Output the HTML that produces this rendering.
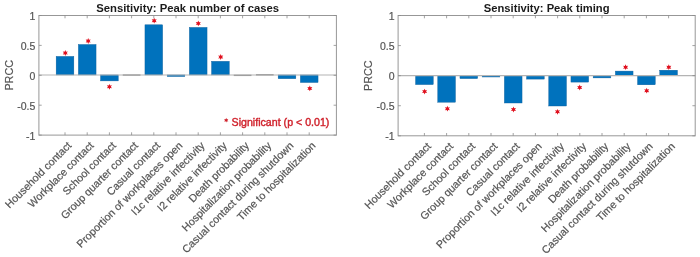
<!DOCTYPE html>
<html><head><meta charset="utf-8"><style>
html,body{margin:0;padding:0;background:#fff;}
svg{display:block;font-family:"Liberation Sans",sans-serif;filter:blur(0.5px);}
</style></head><body>
<svg width="700" height="257" viewBox="0 0 700 257">
<rect x="56.15" y="56.40" width="17.70" height="18.55" fill="#0072bd" stroke="#0a5d9a" stroke-width="0.4"/>
<rect x="78.35" y="44.50" width="17.70" height="30.45" fill="#0072bd" stroke="#0a5d9a" stroke-width="0.4"/>
<rect x="100.55" y="74.95" width="17.70" height="5.95" fill="#0072bd" stroke="#0a5d9a" stroke-width="0.4"/>
<rect x="122.75" y="74.35" width="17.70" height="1.4" fill="#8a8a8a"/>
<rect x="144.95" y="24.80" width="17.70" height="50.15" fill="#0072bd" stroke="#0a5d9a" stroke-width="0.4"/>
<rect x="167.15" y="74.95" width="17.70" height="1.55" fill="#0072bd" stroke="#0a5d9a" stroke-width="0.4"/>
<rect x="189.35" y="27.40" width="17.70" height="47.55" fill="#0072bd" stroke="#0a5d9a" stroke-width="0.4"/>
<rect x="211.55" y="61.30" width="17.70" height="13.65" fill="#0072bd" stroke="#0a5d9a" stroke-width="0.4"/>
<rect x="233.75" y="74.65" width="17.70" height="1.4" fill="#8a8a8a"/>
<rect x="255.95" y="74.10" width="17.70" height="1.4" fill="#8a8a8a"/>
<rect x="278.15" y="74.95" width="17.70" height="3.75" fill="#0072bd" stroke="#0a5d9a" stroke-width="0.4"/>
<rect x="300.35" y="74.95" width="17.70" height="7.55" fill="#0072bd" stroke="#0a5d9a" stroke-width="0.4"/>
<polygon points="65.30,50.10 66.02,51.74 67.81,51.55 66.75,53.00 67.81,54.45 66.02,54.26 65.30,55.90 64.58,54.26 62.79,54.45 63.85,53.00 62.79,51.55 64.58,51.74" fill="#e0101e"/>
<polygon points="88.20,38.10 88.92,39.74 90.71,39.55 89.65,41.00 90.71,42.45 88.92,42.26 88.20,43.90 87.48,42.26 85.69,42.45 86.75,41.00 85.69,39.55 87.48,39.74" fill="#e0101e"/>
<polygon points="109.40,83.90 110.12,85.54 111.91,85.35 110.85,86.80 111.91,88.25 110.12,88.06 109.40,89.70 108.68,88.06 106.89,88.25 107.95,86.80 106.89,85.35 108.68,85.54" fill="#e0101e"/>
<polygon points="154.20,17.80 154.92,19.44 156.71,19.25 155.65,20.70 156.71,22.15 154.92,21.96 154.20,23.60 153.47,21.96 151.69,22.15 152.75,20.70 151.69,19.25 153.47,19.44" fill="#e0101e"/>
<polygon points="198.30,20.50 199.03,22.14 200.81,21.95 199.75,23.40 200.81,24.85 199.03,24.66 198.30,26.30 197.58,24.66 195.79,24.85 196.85,23.40 195.79,21.95 197.58,22.14" fill="#e0101e"/>
<polygon points="220.70,54.10 221.42,55.74 223.21,55.55 222.15,57.00 223.21,58.45 221.42,58.26 220.70,59.90 219.97,58.26 218.19,58.45 219.25,57.00 218.19,55.55 219.97,55.74" fill="#e0101e"/>
<polygon points="309.80,85.50 310.53,87.14 312.31,86.95 311.25,88.40 312.31,89.85 310.53,89.66 309.80,91.30 309.07,89.66 307.29,89.85 308.35,88.40 307.29,86.95 309.07,87.14" fill="#e0101e"/>
<line x1="38.9" y1="74.95" x2="336.4" y2="74.95" stroke="#b4b4b4" stroke-width="1.1"/>
<rect x="38.9" y="15.5" width="297.50" height="119.60" fill="none" stroke="#979797" stroke-width="1"/>
<line x1="65.00" y1="135.1" x2="65.00" y2="132.29999999999998" stroke="#8c8c8c" stroke-width="0.8"/>
<line x1="65.00" y1="15.5" x2="65.00" y2="18.3" stroke="#8c8c8c" stroke-width="0.8"/>
<line x1="87.20" y1="135.1" x2="87.20" y2="132.29999999999998" stroke="#8c8c8c" stroke-width="0.8"/>
<line x1="87.20" y1="15.5" x2="87.20" y2="18.3" stroke="#8c8c8c" stroke-width="0.8"/>
<line x1="109.40" y1="135.1" x2="109.40" y2="132.29999999999998" stroke="#8c8c8c" stroke-width="0.8"/>
<line x1="109.40" y1="15.5" x2="109.40" y2="18.3" stroke="#8c8c8c" stroke-width="0.8"/>
<line x1="131.60" y1="135.1" x2="131.60" y2="132.29999999999998" stroke="#8c8c8c" stroke-width="0.8"/>
<line x1="131.60" y1="15.5" x2="131.60" y2="18.3" stroke="#8c8c8c" stroke-width="0.8"/>
<line x1="153.80" y1="135.1" x2="153.80" y2="132.29999999999998" stroke="#8c8c8c" stroke-width="0.8"/>
<line x1="153.80" y1="15.5" x2="153.80" y2="18.3" stroke="#8c8c8c" stroke-width="0.8"/>
<line x1="176.00" y1="135.1" x2="176.00" y2="132.29999999999998" stroke="#8c8c8c" stroke-width="0.8"/>
<line x1="176.00" y1="15.5" x2="176.00" y2="18.3" stroke="#8c8c8c" stroke-width="0.8"/>
<line x1="198.20" y1="135.1" x2="198.20" y2="132.29999999999998" stroke="#8c8c8c" stroke-width="0.8"/>
<line x1="198.20" y1="15.5" x2="198.20" y2="18.3" stroke="#8c8c8c" stroke-width="0.8"/>
<line x1="220.40" y1="135.1" x2="220.40" y2="132.29999999999998" stroke="#8c8c8c" stroke-width="0.8"/>
<line x1="220.40" y1="15.5" x2="220.40" y2="18.3" stroke="#8c8c8c" stroke-width="0.8"/>
<line x1="242.60" y1="135.1" x2="242.60" y2="132.29999999999998" stroke="#8c8c8c" stroke-width="0.8"/>
<line x1="242.60" y1="15.5" x2="242.60" y2="18.3" stroke="#8c8c8c" stroke-width="0.8"/>
<line x1="264.80" y1="135.1" x2="264.80" y2="132.29999999999998" stroke="#8c8c8c" stroke-width="0.8"/>
<line x1="264.80" y1="15.5" x2="264.80" y2="18.3" stroke="#8c8c8c" stroke-width="0.8"/>
<line x1="287.00" y1="135.1" x2="287.00" y2="132.29999999999998" stroke="#8c8c8c" stroke-width="0.8"/>
<line x1="287.00" y1="15.5" x2="287.00" y2="18.3" stroke="#8c8c8c" stroke-width="0.8"/>
<line x1="309.20" y1="135.1" x2="309.20" y2="132.29999999999998" stroke="#8c8c8c" stroke-width="0.8"/>
<line x1="309.20" y1="15.5" x2="309.20" y2="18.3" stroke="#8c8c8c" stroke-width="0.8"/>
<line x1="38.9" y1="15.50" x2="41.699999999999996" y2="15.50" stroke="#8c8c8c" stroke-width="0.8"/>
<line x1="336.4" y1="15.50" x2="333.59999999999997" y2="15.50" stroke="#8c8c8c" stroke-width="0.8"/>
<text x="35.30" y="20.00" text-anchor="end" font-size="10.5" fill="#555" stroke="#555" stroke-width="0.2">1</text>
<line x1="38.9" y1="45.40" x2="41.699999999999996" y2="45.40" stroke="#8c8c8c" stroke-width="0.8"/>
<line x1="336.4" y1="45.40" x2="333.59999999999997" y2="45.40" stroke="#8c8c8c" stroke-width="0.8"/>
<text x="35.30" y="49.90" text-anchor="end" font-size="10.5" fill="#555" stroke="#555" stroke-width="0.2">0.5</text>
<line x1="38.9" y1="75.30" x2="41.699999999999996" y2="75.30" stroke="#8c8c8c" stroke-width="0.8"/>
<line x1="336.4" y1="75.30" x2="333.59999999999997" y2="75.30" stroke="#8c8c8c" stroke-width="0.8"/>
<text x="35.30" y="79.80" text-anchor="end" font-size="10.5" fill="#555" stroke="#555" stroke-width="0.2">0</text>
<line x1="38.9" y1="105.20" x2="41.699999999999996" y2="105.20" stroke="#8c8c8c" stroke-width="0.8"/>
<line x1="336.4" y1="105.20" x2="333.59999999999997" y2="105.20" stroke="#8c8c8c" stroke-width="0.8"/>
<text x="35.30" y="109.70" text-anchor="end" font-size="10.5" fill="#555" stroke="#555" stroke-width="0.2">-0.5</text>
<line x1="38.9" y1="135.10" x2="41.699999999999996" y2="135.10" stroke="#8c8c8c" stroke-width="0.8"/>
<line x1="336.4" y1="135.10" x2="333.59999999999997" y2="135.10" stroke="#8c8c8c" stroke-width="0.8"/>
<text x="35.30" y="139.60" text-anchor="end" font-size="10.5" fill="#555" stroke="#555" stroke-width="0.2">-1</text>
<text transform="translate(12.90,75.30) rotate(-90)" text-anchor="middle" font-size="10.8" fill="#555" stroke="#555" stroke-width="0.2">PRCC</text>
<text x="187.65" y="12.0" text-anchor="middle" font-size="10.8" font-weight="bold" fill="#1a1a1a" textLength="183" lengthAdjust="spacingAndGlyphs">Sensitivity: Peak number of cases</text>
<text transform="translate(69.30,143.40) rotate(-45)" text-anchor="end" font-size="10.7" fill="#555" stroke="#555" stroke-width="0.2" dominant-baseline="central">Household contact</text>
<text transform="translate(91.50,143.40) rotate(-45)" text-anchor="end" font-size="10.7" fill="#555" stroke="#555" stroke-width="0.2" dominant-baseline="central">Workplace contact</text>
<text transform="translate(113.70,143.40) rotate(-45)" text-anchor="end" font-size="10.7" fill="#555" stroke="#555" stroke-width="0.2" dominant-baseline="central">School contact</text>
<text transform="translate(135.90,143.40) rotate(-45)" text-anchor="end" font-size="10.7" fill="#555" stroke="#555" stroke-width="0.2" dominant-baseline="central">Group quarter contact</text>
<text transform="translate(158.10,143.40) rotate(-45)" text-anchor="end" font-size="10.7" fill="#555" stroke="#555" stroke-width="0.2" dominant-baseline="central">Casual contact</text>
<text transform="translate(180.30,143.40) rotate(-45)" text-anchor="end" font-size="10.7" fill="#555" stroke="#555" stroke-width="0.2" dominant-baseline="central">Proportion of workplaces open</text>
<text transform="translate(202.50,143.40) rotate(-45)" text-anchor="end" font-size="10.7" fill="#555" stroke="#555" stroke-width="0.2" dominant-baseline="central">I1c relative infectivity</text>
<text transform="translate(224.70,143.40) rotate(-45)" text-anchor="end" font-size="10.7" fill="#555" stroke="#555" stroke-width="0.2" dominant-baseline="central">I2 relative infectivity</text>
<text transform="translate(246.90,143.40) rotate(-45)" text-anchor="end" font-size="10.7" fill="#555" stroke="#555" stroke-width="0.2" dominant-baseline="central">Death probability</text>
<text transform="translate(269.10,143.40) rotate(-45)" text-anchor="end" font-size="10.7" fill="#555" stroke="#555" stroke-width="0.2" dominant-baseline="central">Hospitalization probability</text>
<text transform="translate(291.30,143.40) rotate(-45)" text-anchor="end" font-size="10.7" fill="#555" stroke="#555" stroke-width="0.2" dominant-baseline="central">Casual contact during shutdown</text>
<text transform="translate(313.50,143.40) rotate(-45)" text-anchor="end" font-size="10.7" fill="#555" stroke="#555" stroke-width="0.2" dominant-baseline="central">Time to hospitalization</text>
<rect x="415.55" y="75.60" width="17.70" height="9.00" fill="#0072bd" stroke="#0a5d9a" stroke-width="0.4"/>
<rect x="437.75" y="75.60" width="17.70" height="26.60" fill="#0072bd" stroke="#0a5d9a" stroke-width="0.4"/>
<rect x="459.95" y="75.60" width="17.70" height="3.00" fill="#0072bd" stroke="#0a5d9a" stroke-width="0.4"/>
<rect x="482.15" y="75.60" width="17.70" height="1.40" fill="#0072bd" stroke="#0a5d9a" stroke-width="0.4"/>
<rect x="504.35" y="75.60" width="17.70" height="27.40" fill="#0072bd" stroke="#0a5d9a" stroke-width="0.4"/>
<rect x="526.55" y="75.60" width="17.70" height="3.50" fill="#0072bd" stroke="#0a5d9a" stroke-width="0.4"/>
<rect x="548.75" y="75.60" width="17.70" height="30.40" fill="#0072bd" stroke="#0a5d9a" stroke-width="0.4"/>
<rect x="570.95" y="75.60" width="17.70" height="6.50" fill="#0072bd" stroke="#0a5d9a" stroke-width="0.4"/>
<rect x="593.15" y="75.60" width="17.70" height="2.30" fill="#0072bd" stroke="#0a5d9a" stroke-width="0.4"/>
<rect x="615.35" y="71.10" width="17.70" height="4.50" fill="#0072bd" stroke="#0a5d9a" stroke-width="0.4"/>
<rect x="637.55" y="75.60" width="17.70" height="9.20" fill="#0072bd" stroke="#0a5d9a" stroke-width="0.4"/>
<rect x="659.75" y="70.20" width="17.70" height="5.40" fill="#0072bd" stroke="#0a5d9a" stroke-width="0.4"/>
<polygon points="424.60,88.70 425.33,90.34 427.11,90.15 426.05,91.60 427.11,93.05 425.33,92.86 424.60,94.50 423.88,92.86 422.09,93.05 423.15,91.60 422.09,90.15 423.88,90.34" fill="#e0101e"/>
<polygon points="447.40,105.80 448.12,107.44 449.91,107.25 448.85,108.70 449.91,110.15 448.12,109.96 447.40,111.60 446.67,109.96 444.89,110.15 445.95,108.70 444.89,107.25 446.67,107.44" fill="#e0101e"/>
<polygon points="513.50,106.60 514.23,108.24 516.01,108.05 514.95,109.50 516.01,110.95 514.23,110.76 513.50,112.40 512.77,110.76 510.99,110.95 512.05,109.50 510.99,108.05 512.77,108.24" fill="#e0101e"/>
<polygon points="557.50,108.90 558.23,110.54 560.01,110.35 558.95,111.80 560.01,113.25 558.23,113.06 557.50,114.70 556.77,113.06 554.99,113.25 556.05,111.80 554.99,110.35 556.77,110.54" fill="#e0101e"/>
<polygon points="579.70,84.60 580.43,86.24 582.21,86.05 581.15,87.50 582.21,88.95 580.43,88.76 579.70,90.40 578.98,88.76 577.19,88.95 578.25,87.50 577.19,86.05 578.98,86.24" fill="#e0101e"/>
<polygon points="625.60,64.30 626.33,65.94 628.11,65.75 627.05,67.20 628.11,68.65 626.33,68.46 625.60,70.10 624.88,68.46 623.09,68.65 624.15,67.20 623.09,65.75 624.88,65.94" fill="#e0101e"/>
<polygon points="646.70,87.80 647.43,89.44 649.21,89.25 648.15,90.70 649.21,92.15 647.43,91.96 646.70,93.60 645.98,91.96 644.19,92.15 645.25,90.70 644.19,89.25 645.98,89.44" fill="#e0101e"/>
<polygon points="668.80,64.30 669.52,65.94 671.31,65.75 670.25,67.20 671.31,68.65 669.52,68.46 668.80,70.10 668.07,68.46 666.29,68.65 667.35,67.20 666.29,65.75 668.07,65.94" fill="#e0101e"/>
<line x1="398.1" y1="75.60" x2="695.2" y2="75.60" stroke="#b4b4b4" stroke-width="1.1"/>
<rect x="398.1" y="15.5" width="297.10" height="120.30" fill="none" stroke="#979797" stroke-width="1"/>
<line x1="424.40" y1="135.8" x2="424.40" y2="133.0" stroke="#8c8c8c" stroke-width="0.8"/>
<line x1="424.40" y1="15.5" x2="424.40" y2="18.3" stroke="#8c8c8c" stroke-width="0.8"/>
<line x1="446.60" y1="135.8" x2="446.60" y2="133.0" stroke="#8c8c8c" stroke-width="0.8"/>
<line x1="446.60" y1="15.5" x2="446.60" y2="18.3" stroke="#8c8c8c" stroke-width="0.8"/>
<line x1="468.80" y1="135.8" x2="468.80" y2="133.0" stroke="#8c8c8c" stroke-width="0.8"/>
<line x1="468.80" y1="15.5" x2="468.80" y2="18.3" stroke="#8c8c8c" stroke-width="0.8"/>
<line x1="491.00" y1="135.8" x2="491.00" y2="133.0" stroke="#8c8c8c" stroke-width="0.8"/>
<line x1="491.00" y1="15.5" x2="491.00" y2="18.3" stroke="#8c8c8c" stroke-width="0.8"/>
<line x1="513.20" y1="135.8" x2="513.20" y2="133.0" stroke="#8c8c8c" stroke-width="0.8"/>
<line x1="513.20" y1="15.5" x2="513.20" y2="18.3" stroke="#8c8c8c" stroke-width="0.8"/>
<line x1="535.40" y1="135.8" x2="535.40" y2="133.0" stroke="#8c8c8c" stroke-width="0.8"/>
<line x1="535.40" y1="15.5" x2="535.40" y2="18.3" stroke="#8c8c8c" stroke-width="0.8"/>
<line x1="557.60" y1="135.8" x2="557.60" y2="133.0" stroke="#8c8c8c" stroke-width="0.8"/>
<line x1="557.60" y1="15.5" x2="557.60" y2="18.3" stroke="#8c8c8c" stroke-width="0.8"/>
<line x1="579.80" y1="135.8" x2="579.80" y2="133.0" stroke="#8c8c8c" stroke-width="0.8"/>
<line x1="579.80" y1="15.5" x2="579.80" y2="18.3" stroke="#8c8c8c" stroke-width="0.8"/>
<line x1="602.00" y1="135.8" x2="602.00" y2="133.0" stroke="#8c8c8c" stroke-width="0.8"/>
<line x1="602.00" y1="15.5" x2="602.00" y2="18.3" stroke="#8c8c8c" stroke-width="0.8"/>
<line x1="624.20" y1="135.8" x2="624.20" y2="133.0" stroke="#8c8c8c" stroke-width="0.8"/>
<line x1="624.20" y1="15.5" x2="624.20" y2="18.3" stroke="#8c8c8c" stroke-width="0.8"/>
<line x1="646.40" y1="135.8" x2="646.40" y2="133.0" stroke="#8c8c8c" stroke-width="0.8"/>
<line x1="646.40" y1="15.5" x2="646.40" y2="18.3" stroke="#8c8c8c" stroke-width="0.8"/>
<line x1="668.60" y1="135.8" x2="668.60" y2="133.0" stroke="#8c8c8c" stroke-width="0.8"/>
<line x1="668.60" y1="15.5" x2="668.60" y2="18.3" stroke="#8c8c8c" stroke-width="0.8"/>
<line x1="398.1" y1="15.50" x2="400.90000000000003" y2="15.50" stroke="#8c8c8c" stroke-width="0.8"/>
<line x1="695.2" y1="15.50" x2="692.4000000000001" y2="15.50" stroke="#8c8c8c" stroke-width="0.8"/>
<text x="394.50" y="20.00" text-anchor="end" font-size="10.5" fill="#555" stroke="#555" stroke-width="0.2">1</text>
<line x1="398.1" y1="45.58" x2="400.90000000000003" y2="45.58" stroke="#8c8c8c" stroke-width="0.8"/>
<line x1="695.2" y1="45.58" x2="692.4000000000001" y2="45.58" stroke="#8c8c8c" stroke-width="0.8"/>
<text x="394.50" y="50.08" text-anchor="end" font-size="10.5" fill="#555" stroke="#555" stroke-width="0.2">0.5</text>
<line x1="398.1" y1="75.65" x2="400.90000000000003" y2="75.65" stroke="#8c8c8c" stroke-width="0.8"/>
<line x1="695.2" y1="75.65" x2="692.4000000000001" y2="75.65" stroke="#8c8c8c" stroke-width="0.8"/>
<text x="394.50" y="80.15" text-anchor="end" font-size="10.5" fill="#555" stroke="#555" stroke-width="0.2">0</text>
<line x1="398.1" y1="105.73" x2="400.90000000000003" y2="105.73" stroke="#8c8c8c" stroke-width="0.8"/>
<line x1="695.2" y1="105.73" x2="692.4000000000001" y2="105.73" stroke="#8c8c8c" stroke-width="0.8"/>
<text x="394.50" y="110.23" text-anchor="end" font-size="10.5" fill="#555" stroke="#555" stroke-width="0.2">-0.5</text>
<line x1="398.1" y1="135.80" x2="400.90000000000003" y2="135.80" stroke="#8c8c8c" stroke-width="0.8"/>
<line x1="695.2" y1="135.80" x2="692.4000000000001" y2="135.80" stroke="#8c8c8c" stroke-width="0.8"/>
<text x="394.50" y="140.30" text-anchor="end" font-size="10.5" fill="#555" stroke="#555" stroke-width="0.2">-1</text>
<text transform="translate(372.10,75.65) rotate(-90)" text-anchor="middle" font-size="10.8" fill="#555" stroke="#555" stroke-width="0.2">PRCC</text>
<text x="546.65" y="12.0" text-anchor="middle" font-size="10.8" font-weight="bold" fill="#1a1a1a" textLength="125.8" lengthAdjust="spacingAndGlyphs">Sensitivity: Peak timing</text>
<text transform="translate(428.70,144.10) rotate(-45)" text-anchor="end" font-size="10.7" fill="#555" stroke="#555" stroke-width="0.2" dominant-baseline="central">Household contact</text>
<text transform="translate(450.90,144.10) rotate(-45)" text-anchor="end" font-size="10.7" fill="#555" stroke="#555" stroke-width="0.2" dominant-baseline="central">Workplace contact</text>
<text transform="translate(473.10,144.10) rotate(-45)" text-anchor="end" font-size="10.7" fill="#555" stroke="#555" stroke-width="0.2" dominant-baseline="central">School contact</text>
<text transform="translate(495.30,144.10) rotate(-45)" text-anchor="end" font-size="10.7" fill="#555" stroke="#555" stroke-width="0.2" dominant-baseline="central">Group quarter contact</text>
<text transform="translate(517.50,144.10) rotate(-45)" text-anchor="end" font-size="10.7" fill="#555" stroke="#555" stroke-width="0.2" dominant-baseline="central">Casual contact</text>
<text transform="translate(539.70,144.10) rotate(-45)" text-anchor="end" font-size="10.7" fill="#555" stroke="#555" stroke-width="0.2" dominant-baseline="central">Proportion of workplaces open</text>
<text transform="translate(561.90,144.10) rotate(-45)" text-anchor="end" font-size="10.7" fill="#555" stroke="#555" stroke-width="0.2" dominant-baseline="central">I1c relative infectivity</text>
<text transform="translate(584.10,144.10) rotate(-45)" text-anchor="end" font-size="10.7" fill="#555" stroke="#555" stroke-width="0.2" dominant-baseline="central">I2 relative infectivity</text>
<text transform="translate(606.30,144.10) rotate(-45)" text-anchor="end" font-size="10.7" fill="#555" stroke="#555" stroke-width="0.2" dominant-baseline="central">Death probability</text>
<text transform="translate(628.50,144.10) rotate(-45)" text-anchor="end" font-size="10.7" fill="#555" stroke="#555" stroke-width="0.2" dominant-baseline="central">Hospitalization probability</text>
<text transform="translate(650.70,144.10) rotate(-45)" text-anchor="end" font-size="10.7" fill="#555" stroke="#555" stroke-width="0.2" dominant-baseline="central">Casual contact during shutdown</text>
<text transform="translate(672.90,144.10) rotate(-45)" text-anchor="end" font-size="10.7" fill="#555" stroke="#555" stroke-width="0.2" dominant-baseline="central">Time to hospitalization</text>
<polygon points="226.20,117.80 226.80,119.16 228.28,119.00 227.40,120.20 228.28,121.40 226.80,121.24 226.20,122.60 225.60,121.24 224.12,121.40 225.00,120.20 224.12,119.00 225.60,119.16" fill="#d0222c"/>
<text x="231.6" y="125.6" font-size="10.6" fill="#d0222c" stroke="#d0222c" stroke-width="0.4" textLength="97.8" lengthAdjust="spacingAndGlyphs">Significant (p &lt; 0.01)</text>
</svg>
</body></html>
